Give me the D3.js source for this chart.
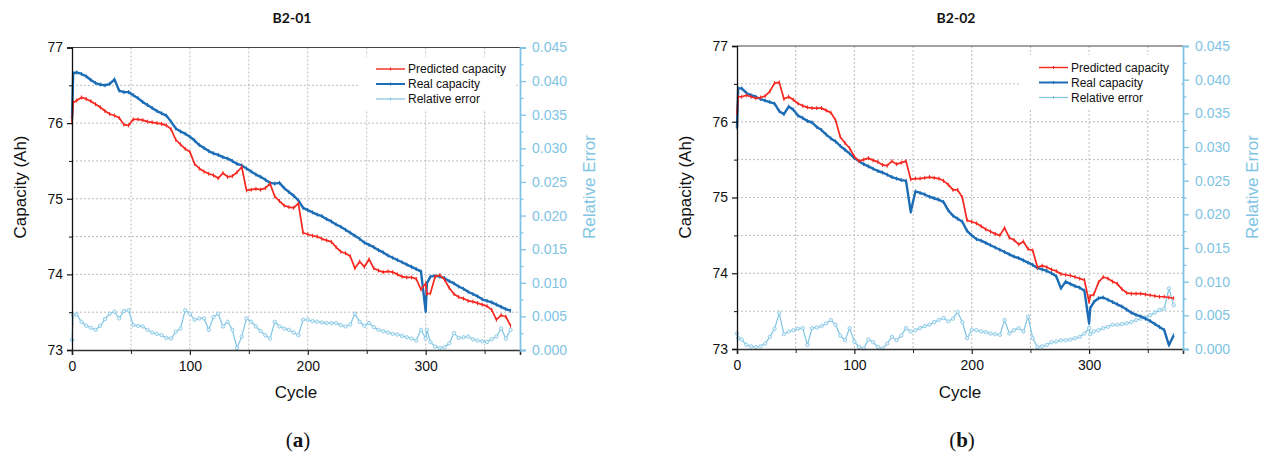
<!DOCTYPE html>
<html><head><meta charset="utf-8">
<script src="https://cdn.jsdelivr.net/npm/d3@7"></script>
<style>body{margin:0;background:#fff}svg{display:block}</style>
</head><body><svg id="c" width="1262" height="457"></svg>
<script>
// ---- data ----
const cycles = [
  0,1,4,8,12,16,20,24,28,32,
  36,40,44,48,52,56,60,64,68,72,
  76,80,84,88,92,96,100,104,108,112,
  116,120,124,128,132,136,140,144,148,152,
  156,160,164,168,172,176,180,184,188,192,
  196,200,204,208,212,216,220,224,228,232,
  236,240,244,248,252,256,260,264,268,272,
  276,280,284,288,292,296,300,301,304,308,
  312,316,320,324,328,332,336,340,344,348,
  352,356,360,364,368,372];

const b1Real = [
  76.05,76.66,76.67,76.65,76.62,76.57,76.53,76.51,76.50,76.52,
  76.58,76.43,76.41,76.41,76.37,76.33,76.28,76.24,76.20,76.16,
  76.13,76.10,76.02,75.93,75.89,75.86,75.82,75.77,75.71,75.67,
  75.63,75.60,75.58,75.55,75.53,75.50,75.46,75.44,75.40,75.36,
  75.32,75.29,75.25,75.21,75.20,75.21,75.14,75.09,75.04,74.98,
  74.88,74.85,74.82,74.79,74.77,74.73,74.70,74.66,74.63,74.59,
  74.55,74.51,74.47,74.42,74.39,74.36,74.32,74.29,74.25,74.22,
  74.19,74.16,74.13,74.10,74.07,74.04,73.51,73.88,73.97,73.98,
  73.97,73.95,73.91,73.88,73.84,73.81,73.77,73.74,73.71,73.67,
  73.65,73.63,73.60,73.57,73.54,73.52];
const b1Pred = [
  76.01,76.27,76.30,76.34,76.32,76.29,76.25,76.21,76.16,76.12,
  76.10,76.07,75.98,75.97,76.05,76.05,76.04,76.02,76.01,76.00,
  75.99,75.97,75.92,75.78,75.72,75.66,75.62,75.46,75.40,75.36,
  75.33,75.31,75.27,75.34,75.29,75.30,75.35,75.42,75.11,75.12,
  75.13,75.12,75.14,75.20,75.03,74.97,74.91,74.89,74.88,74.94,
  74.55,74.53,74.51,74.50,74.47,74.45,74.43,74.36,74.30,74.28,
  74.24,74.08,74.17,74.10,74.20,74.08,74.05,74.03,74.04,74.03,
  74.00,73.97,73.96,73.96,73.94,73.80,73.88,73.74,73.75,73.97,
  73.99,73.93,73.82,73.74,73.70,73.68,73.65,73.64,73.62,73.60,
  73.58,73.53,73.40,73.46,73.44,73.32];
const b1Err = [
  .0015,.0052,.0053,.0042,.0036,.0033,.0030,.0036,.0046,.0054,
  .0057,.0047,.0058,.0059,.0037,.0036,.0035,.0030,.0026,.0024,
  .0022,.0018,.0017,.0027,.0032,.0059,.0054,.0045,.0047,.0047,
  .0030,.0049,.0054,.0035,.0042,.0030,.0003,.0020,.0047,.0042,
  .0035,.0028,.0022,.0017,.0042,.0035,.0032,.0030,.0026,.0022,
  .0045,.0045,.0043,.0042,.0041,.0040,.0040,.0040,.0037,.0035,
  .0038,.0054,.0042,.0036,.0040,.0034,.0030,.0028,.0026,.0024,
  .0023,.0021,.0019,.0017,.0014,.0030,.0017,.0030,.0012,.0005,
  .0003,.0004,.0010,.0025,.0018,.0019,.0020,.0016,.0014,.0013,
  .0012,.0016,.0020,.0032,.0017,.0030];

const b2Real = [
  75.92,76.44,76.44,76.38,76.35,76.33,76.30,76.28,76.26,76.24,
  76.14,76.10,76.20,76.16,76.08,76.05,76.01,75.99,75.93,75.89,
  75.83,75.78,75.74,75.68,75.63,75.58,75.52,75.48,75.44,75.41,
  75.38,75.35,75.33,75.30,75.27,75.25,75.23,75.22,74.81,75.08,
  75.06,75.04,75.01,74.99,74.97,74.94,74.83,74.76,74.72,74.68,
  74.56,74.50,74.45,74.43,74.40,74.37,74.34,74.31,74.28,74.25,
  74.22,74.20,74.17,74.14,74.11,74.07,74.05,74.03,74.00,73.96,
  73.80,73.89,73.86,73.83,73.81,73.77,73.34,73.54,73.62,73.67,
  73.68,73.65,73.62,73.59,73.56,73.52,73.48,73.45,73.43,73.40,
  73.37,73.33,73.29,73.25,73.05,73.18];
const b2Pred = [
  76.11,76.33,76.33,76.35,76.33,76.31,76.32,76.34,76.40,76.51,
  76.52,76.30,76.33,76.29,76.24,76.21,76.19,76.18,76.18,76.18,
  76.15,76.12,76.02,75.80,75.72,75.65,75.54,75.48,75.50,75.52,
  75.49,75.47,75.43,75.42,75.48,75.44,75.46,75.48,75.24,75.25,
  75.25,75.26,75.27,75.26,75.25,75.22,75.17,75.10,75.10,75.00,
  74.70,74.68,74.66,74.62,74.58,74.55,74.52,74.50,74.60,74.47,
  74.44,74.38,74.42,74.32,74.30,74.08,74.10,74.08,74.05,74.03,
  73.99,73.98,73.97,73.95,73.93,73.91,73.62,73.70,73.72,73.88,
  73.95,73.93,73.89,73.86,73.79,73.74,73.73,73.73,73.73,73.72,
  73.71,73.70,73.69,73.69,73.68,73.67];
const b2Err = [
  .0023,.0016,.0014,.0006,.0004,.0003,.0004,.0008,.0018,.0030,
  .0053,.0022,.0026,.0028,.0030,.0031,.0006,.0031,.0032,.0034,
  .0038,.0043,.0036,.0020,.0013,.0031,.0011,.0003,.0001,.0014,
  .0010,.0003,.0001,.0008,.0018,.0013,.0020,.0031,.0026,.0028,
  .0031,.0034,.0036,.0040,.0043,.0046,.0041,.0045,.0055,.0040,
  .0016,.0028,.0028,.0026,.0025,.0023,.0022,.0021,.0043,.0023,
  .0028,.0031,.0026,.0048,.0016,.0003,.0004,.0006,.0010,.0011,
  .0013,.0013,.0014,.0016,.0018,.0023,.0031,.0022,.0026,.0028,
  .0031,.0033,.0036,.0036,.0037,.0038,.0040,.0043,.0045,.0047,
  .0050,.0054,.0058,.0060,.0090,.0065];

const chartTitles = ["B2-01", "B2-02"];
const panelLetters = ["a", "b"];
const seriesNames = ["Predicted capacity", "Real capacity", "Relative error"];
const capTicks = [73, 74, 75, 76, 77];
const capMinor = [73.5, 74.5, 75.5, 76.5];
const errTicks = [0, 0.005, 0.010, 0.015, 0.020, 0.025, 0.030, 0.035, 0.040, 0.045];
const errMinor = [0.0025, 0.0075, 0.0125, 0.0175, 0.0225, 0.0275, 0.0325, 0.0375, 0.0425];
const cycleTicks = [0, 100, 200, 300];
const cycleMinor = [50, 150, 250, 350];
const gridCycles = [50, 100, 150, 200, 250, 300, 350];
const gridCaps = [73.5, 74, 74.5, 75, 75.5, 76, 76.5];

// ---- drawing ----
const RED = "#f5271f", BLUE = "#1c6db6", LBLUE = "#7fc4e3";
const svg = d3.select("#c");
const FONT = "'Liberation Sans', Arial, sans-serif";

const panels = [
  {x0: 72, x1: 520, y0: 47.5, y1: 350, real: b1Real, pred: b1Pred, err: b1Err},
  {x0: 737, x1: 1183, y0: 46, y1: 349, real: b2Real, pred: b2Pred, err: b2Err}
];

panels.forEach((p, i) => {
  const g = svg.append("g");
  const x = d3.scaleLinear().domain([0, 380]).range([p.x0, p.x1]);
  const y = d3.scaleLinear().domain([73, 77]).range([p.y1, p.y0]);
  const ye = d3.scaleLinear().domain([0, 0.045]).range([p.y1, p.y0]);
  const cx = (p.x0 + p.x1) / 2;

  // grid
  g.append("g").selectAll("line").data(gridCycles).join("line")
    .attr("x1", d => x(d)).attr("x2", d => x(d)).attr("y1", p.y0).attr("y2", p.y1)
    .attr("stroke", "#b3b3b3").attr("stroke-width", 0.9).attr("stroke-dasharray", "2,2");
  g.append("g").selectAll("line").data(gridCaps).join("line")
    .attr("x1", p.x0).attr("x2", p.x1).attr("y1", d => y(d)).attr("y2", d => y(d))
    .attr("stroke", "#b3b3b3").attr("stroke-width", 0.9).attr("stroke-dasharray", "2,2");

  // top frame
  g.append("line").attr("x1", p.x0).attr("x2", p.x1).attr("y1", p.y0).attr("y2", p.y0)
    .attr("stroke", "#444").attr("stroke-width", 1.2);

  // legend
  const lx = p.x1 - 112;
  g.append("rect").attr("x", lx - 50).attr("y", p.y0 + 9).attr("width", 158).attr("height", 54)
    .attr("fill", "#fff");
  const lcol = [RED, BLUE, LBLUE], lw = [1.4, 2, 1.2];
  seriesNames.forEach((nm, k) => {
    const ly = p.y0 + 21.5 + k * 15;
    g.append("line").attr("x1", lx - 32).attr("x2", lx - 3).attr("y1", ly).attr("y2", ly)
      .attr("stroke", lcol[k]).attr("stroke-width", lw[k]);
    g.append("line").attr("x1", lx - 17.5).attr("x2", lx - 17.5).attr("y1", ly - 1.5).attr("y2", ly + 1.5)
      .attr("stroke", lcol[k]).attr("stroke-width", 1);
    g.append("text").attr("x", lx).attr("y", ly).attr("dy", "0.35em")
      .attr("font-family", FONT).attr("font-size", 12).attr("fill", "#111").text(nm);
  });

  // series
  const errLine = d3.line().x((d, j) => x(cycles[j])).y(d => ye(d));
  g.append("path").datum(p.err).attr("d", errLine).attr("fill", "none")
    .attr("stroke", LBLUE).attr("stroke-width", 1.2);
  g.append("g").selectAll("circle").data(p.err).join("circle")
    .attr("cx", (d, j) => x(cycles[j])).attr("cy", d => ye(d)).attr("r", 1.7)
    .attr("fill", "#e6f3fa").attr("stroke", LBLUE).attr("stroke-width", 0.8);

  const capLine = d3.line().x((d, j) => x(cycles[j])).y(d => y(d));
  [[p.real, BLUE, 2.4], [p.pred, RED, 1.7]].forEach(([vals, col, w]) => {
    g.append("path").datum(vals).attr("d", capLine).attr("fill", "none")
      .attr("stroke", col).attr("stroke-width", w).attr("stroke-linejoin", "round");
    g.append("g").selectAll("line").data(vals).join("line")
      .attr("x1", (d, j) => x(cycles[j])).attr("x2", (d, j) => x(cycles[j]))
      .attr("y1", d => y(d) - 2).attr("y2", d => y(d) + 2)
      .attr("stroke", col).attr("stroke-width", 1);
  });

  // axes
  const styleText = sel => sel.selectAll("text").attr("font-family", FONT).attr("font-size", 14);
  const la = g.append("g").attr("transform", `translate(${p.x0},0)`)
    .call(d3.axisLeft(y).tickValues(capTicks).tickSize(5).tickPadding(4).tickFormat(d3.format("d")));
  la.select(".domain").attr("stroke", "#111").attr("stroke-width", 1.3);
  la.selectAll(".tick line").attr("stroke", "#111").attr("stroke-width", 1.2);
  styleText(la); la.selectAll("text").attr("fill", "#111");
  const lm = g.append("g").attr("transform", `translate(${p.x0},0)`)
    .call(d3.axisLeft(y).tickValues(capMinor).tickSize(3).tickFormat(""));
  lm.select(".domain").remove();
  lm.selectAll(".tick line").attr("stroke", "#111");
  const ba = g.append("g").attr("transform", `translate(0,${p.y1})`)
    .call(d3.axisBottom(x).tickValues(cycleTicks).tickSize(5).tickPadding(6).tickFormat(d3.format("d")));
  ba.select(".domain").attr("stroke", "#333").attr("stroke-width", 1.6);
  ba.selectAll(".tick line").attr("stroke", "#222").attr("stroke-width", 1.2);
  styleText(ba); ba.selectAll("text").attr("fill", "#111");
  const bm = g.append("g").attr("transform", `translate(0,${p.y1})`)
    .call(d3.axisBottom(x).tickValues(cycleMinor).tickSize(4).tickFormat(""));
  bm.select(".domain").remove();
  bm.selectAll(".tick line").attr("stroke", "#222");
  const ra = g.append("g").attr("transform", `translate(${p.x1},0)`)
    .call(d3.axisRight(ye).tickValues(errTicks).tickSize(6).tickPadding(6).tickFormat(d3.format(".3f")));
  ra.select(".domain").attr("stroke", LBLUE).attr("stroke-width", 1.8);
  ra.selectAll(".tick line").attr("stroke", LBLUE).attr("stroke-width", 1.3);
  styleText(ra); ra.selectAll("text").attr("fill", LBLUE);
  const rm = g.append("g").attr("transform", `translate(${p.x1},0)`)
    .call(d3.axisRight(ye).tickValues(errMinor).tickSize(3.5).tickFormat(""));
  rm.select(".domain").remove();
  rm.selectAll(".tick line").attr("stroke", LBLUE).attr("stroke-width", 1.2);

  // titles
  g.append("text").attr("x", cx - 4).attr("y", 23).attr("text-anchor", "middle")
    .attr("font-family", "Lato, 'Open Sans', sans-serif").attr("font-weight", 700).attr("font-size", 14)
    .attr("fill", "#111").text(chartTitles[i]);
  g.append("text").attr("x", cx).attr("y", 398).attr("text-anchor", "middle")
    .attr("font-family", FONT).attr("font-size", 17).attr("fill", "#111").text("Cycle");
  g.append("text").attr("transform", `translate(${p.x0 - 46},187) rotate(-90)`)
    .attr("text-anchor", "middle").attr("font-family", FONT).attr("font-size", 17)
    .attr("fill", "#111").text("Capacity (Ah)");
  g.append("text").attr("transform", `translate(${p.x1 + 75},187) rotate(-90)`)
    .attr("text-anchor", "middle").attr("font-family", FONT).attr("font-size", 17)
    .attr("fill", LBLUE).text("Relative Error");
  const pl = g.append("text").attr("x", cx + 2).attr("y", 447).attr("text-anchor", "middle")
    .attr("font-family", "'Liberation Serif', 'DejaVu Serif', serif").attr("font-size", 21).attr("fill", "#111");
  pl.append("tspan").text("(");
  pl.append("tspan").attr("font-weight", 700).text(panelLetters[i]);
  pl.append("tspan").text(")");
});
</script>
</body></html>
